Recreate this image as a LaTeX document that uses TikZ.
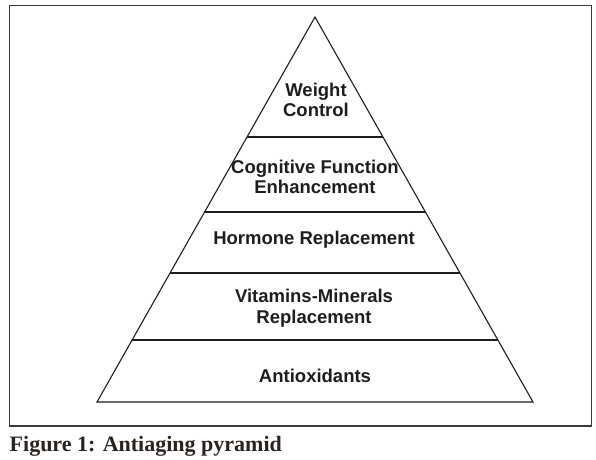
\documentclass[tikz,border=0pt]{standalone}
\usepackage{fontspec}
\usepackage{tikz}
\usepackage{xcolor}
\usetikzlibrary{calc}
\setmainfont{Liberation Sans}
\newfontfamily\capfont{Liberation Serif}
\definecolor{pyink}{HTML}{1E1E1E}
\definecolor{pyframe}{HTML}{3A3A3A}
\definecolor{pycap}{HTML}{2A2320}
\tikzset{
  pylayer/.style={align=center, font=\fontsize{18.5}{20.5}\selectfont\bfseries, text=pyink, inner sep=0pt},
  pyline/.style={draw=pyink, line width=1.1pt},
  pyframe/.style={draw=pyframe, line width=1.5pt}
}
\begin{document}
\begin{tikzpicture}[x=1pt, y=-1pt]
\useasboundingbox (0,0) rectangle (596,459);
% outer frame
\draw[pyframe] (9.5,5.5) rectangle (591.5,426);
% pyramid outline
\coordinate (apex) at (315,17);
\coordinate (bl) at (97,402);
\coordinate (br) at (533,402);
\draw[pyline, line join=miter] (apex) -- (bl) -- (br) -- cycle;
% layer borders
\foreach \t [count=\i] in {0.3117,0.5065,0.6649,0.8390} {
  \draw[pyline] ($(apex)!\t!(bl)$) -- ($(apex)!\t!(br)$);
}
% layer labels
\node[pylayer] (weight) at (316,100) {Weight\\Control};
\node[pylayer] (cognitive) at (315,177) {Cognitive Function\\Enhancement};
\node[pylayer] (hormone) at (314,240) {Hormone Replacement};
\node[pylayer] (vitamins) at (314,308) {Vitamins-Minerals\\Replacement};
\node[pylayer] (antiox) at (315,376) {Antioxidants};
% caption
\node[anchor=base west, inner sep=0pt, text=pycap, font=\capfont\fontsize{22}{24}\selectfont\bfseries] (caption) at (9.5,451) {Figure 1: Antiaging pyramid};
\end{tikzpicture}
\end{document}
